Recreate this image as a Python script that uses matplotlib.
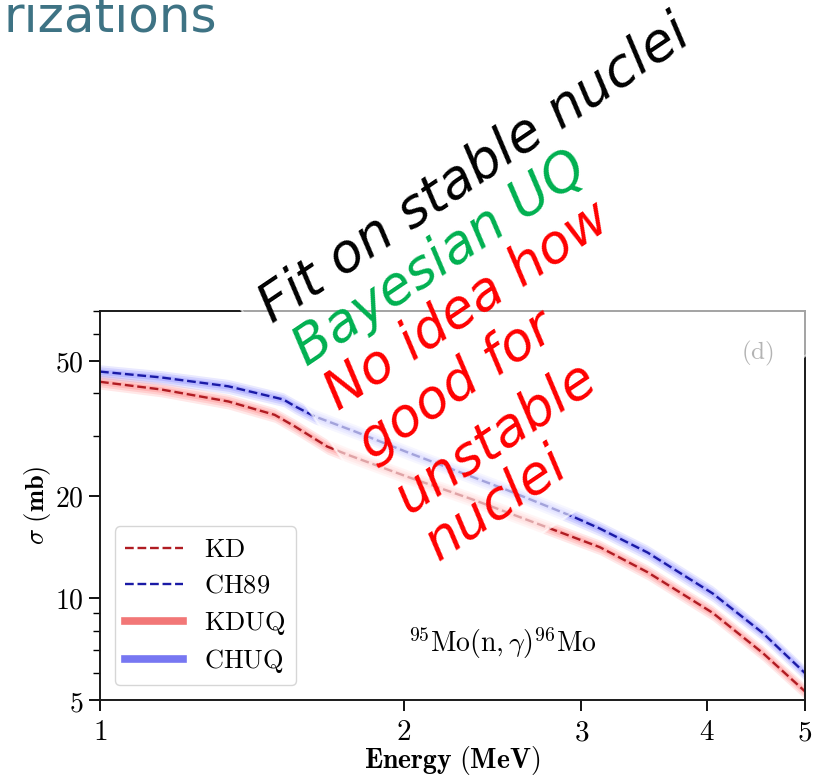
import matplotlib
matplotlib.use("Agg")
import matplotlib.pyplot as plt
import numpy as np
from matplotlib.lines import Line2D
from matplotlib.patches import Polygon
from matplotlib.ticker import FixedLocator, FuncFormatter, NullFormatter, LogLocator

plt.rcParams['mathtext.fontset'] = 'cm'

# KD / KDUQ (red)
kd_e = [1.00, 1.15, 1.34, 1.49, 1.56, 1.68, 1.76, 2.02, 2.34, 2.78, 3.13, 3.49, 4.05, 4.54, 5.00]
kd_sig = [43.3, 41.1, 37.9, 34.6, 32.0, 27.9, 26.4, 22.7, 19.5, 16.1, 14.1, 11.9, 9.03, 6.88, 5.3]
kd_err = [2.1, 2.0, 1.9, 1.7, 1.6, 1.4, 1.3, 1.1, 0.95, 0.8, 0.7, 0.6, 0.46, 0.35, 0.27]

# CH89 / CHUQ (blue)
ch_e = [1.00, 1.15, 1.34, 1.52, 1.56, 1.63, 1.79, 2.02, 2.53, 2.95, 3.13, 3.49, 4.05, 4.54, 5.00]
ch_sig = [46.4, 44.6, 42.0, 38.4, 36.7, 34.3, 30.9, 26.8, 20.8, 17.3, 16.0, 13.6, 10.3, 7.88, 6.0]
ch_err = [2.2, 2.1, 2.0, 1.8, 1.8, 1.7, 1.5, 1.3, 1.0, 0.9, 0.8, 0.7, 0.55, 0.4, 0.3]

x_ticks = [1, 2, 3, 4, 5]
y_ticks = [5, 10, 20, 50]

W, H = 821, 776
fig = plt.figure(figsize=(W / 100, H / 100), dpi=100)
ax = fig.add_axes([100 / W, 76 / H, 705 / W, 389 / H])

kd_e, kd_sig, kd_err = map(np.array, (kd_e, kd_sig, kd_err))
ch_e, ch_sig, ch_err = map(np.array, (ch_e, ch_sig, ch_err))

# soft uncertainty bands
for k, a in [(1.0, 0.13), (0.7, 0.16), (0.4, 0.2)]:
    ax.fill_between(kd_e, kd_sig - k * kd_err, kd_sig + k * kd_err, color='#ff5050', alpha=a, lw=0)
    ax.fill_between(ch_e, ch_sig - k * ch_err, ch_sig + k * ch_err, color='#5555ff', alpha=a, lw=0)

l_kd, = ax.plot(kd_e, kd_sig, ls='--', color='#b01c22', lw=1.7)
l_ch, = ax.plot(ch_e, ch_sig, ls='--', color='#1a1aa6', lw=1.7)

ax.set_xscale('log')
ax.set_yscale('log')
ax.set_xlim(1, 5)
ax.set_ylim(5, 70)

bold = FuncFormatter(lambda v, p: r'$\mathbf{%g}$' % v)
ax.xaxis.set_major_locator(FixedLocator(x_ticks))
ax.xaxis.set_major_formatter(bold)
ax.xaxis.set_minor_locator(FixedLocator([]))
ax.yaxis.set_major_locator(FixedLocator(y_ticks))
ax.yaxis.set_major_formatter(bold)
ax.yaxis.set_minor_locator(LogLocator(subs=np.arange(2, 10)))
ax.yaxis.set_minor_formatter(NullFormatter())
ax.tick_params(axis='x', which='major', labelsize=21, length=8, width=1.3, pad=5)
ax.tick_params(axis='y', which='major', labelsize=20, length=8, width=1.3, pad=4)
ax.tick_params(axis='y', which='minor', length=5, width=1.0)
for s in ax.spines.values():
    s.set_linewidth(1.4)
    s.set_color('#1a1a1a')

ax.set_xlabel(r'$\mathbf{Energy\ (MeV)}$', fontsize=20)
ax.set_ylabel(r'$\sigma\ \mathbf{(mb)}$', fontsize=19)
ax.xaxis.set_label_coords(0.5, -0.113)
ax.yaxis.set_label_coords(-0.066, 0.5)

handles = [l_kd, l_ch,
           Line2D([], [], color='#f27777', lw=5.5),
           Line2D([], [], color='#7777f2', lw=5.5)]
labels = [r'$\mathrm{KD}$', r'$\mathrm{CH89}$', r'$\mathrm{KDUQ}$', r'$\mathrm{CHUQ}$']
leg = ax.legend(handles, labels, loc='lower left', fontsize=19, handlelength=2.2,
                labelspacing=0.38, borderaxespad=0.55, fancybox=True, edgecolor='#cccccc')
leg.get_frame().set_linewidth(1.0)

ax.text(0.57, 0.147, r'$^{95}\mathrm{Mo(n,}\gamma\mathrm{)}^{96}\mathrm{Mo}$', transform=ax.transAxes,
        ha='center', va='center', fontsize=20)
ax.text(0.932, 0.89, r'$\mathrm{(d)}$', transform=ax.transAxes, ha='center', va='center',
        fontsize=18, color='#444444')

# half transparent white box behind the handwritten notes
ang = np.deg2rad(34)
c0 = np.array([439.0, 603.0])
along = np.array([np.cos(ang), -np.sin(ang)])
up = np.array([-np.sin(ang), -np.cos(ang)])
corners = [c0, c0 + 650 * along, c0 + 650 * along + 420 * up, c0 + 420 * up]
pts = [(p[0] / W, 1 - p[1] / H) for p in corners]
box = Polygon(pts, closed=True, transform=fig.transFigure, facecolor='white', alpha=0.6,
              edgecolor='white', lw=1.5, zorder=5)
fig.add_artist(box)

notes = [
    ("Fit on stable nuclei", (272, 324), 'black'),
    ("Bayesian UQ", (307, 367), '#00b050'),
    ("No idea how", (338, 411), 'red'),
    ("good for", (372, 461), 'red'),
    ("unstable", (408, 514), 'red'),
    ("nuclei", (438, 561), 'red'),
]
for txt, (px, py), col in notes:
    fig.text(px / W, 1 - py / H, txt, rotation=34, rotation_mode='anchor', ha='left',
             va='baseline', fontsize=38.5, color=col, family='DejaVu Sans',
             style='oblique', zorder=10)

fig.text(3 / W, 1 - 32 / H, 'rizations', fontsize=36, color='#3e7384',
         family='DejaVu Sans', va='baseline')

fig.savefig('out.png', dpi=100)
